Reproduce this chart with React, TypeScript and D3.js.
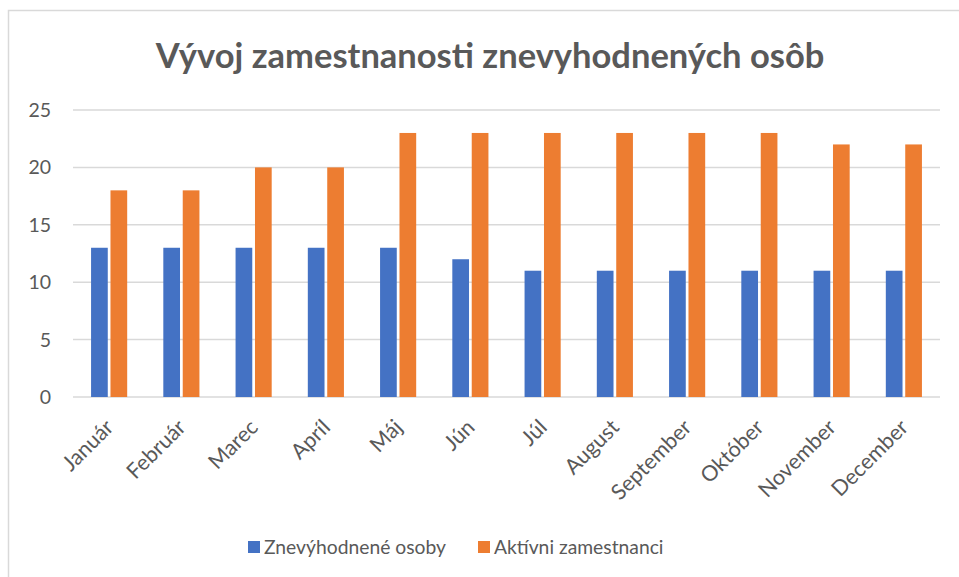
import React from 'react'
import * as d3 from 'd3'

const months = ['Január', 'Február', 'Marec', 'Apríl', 'Máj', 'Jún', 'Júl', 'August', 'September', 'Október', 'November', 'December']
const disadvantaged = [13, 13, 13, 13, 13, 12, 11, 11, 11, 11, 11, 11]
const activeEmployees = [18, 18, 20, 20, 23, 23, 23, 23, 23, 23, 22, 22]
const seriesNames = ['Znevýhodnené osoby', 'Aktívni zamestnanci']
const seriesColors = ['#4472C4', '#ED7D31']
const yTicks = [0, 5, 10, 15, 20, 25]

const W = 959
const H = 577
const FONT = 'Lato, "Open Sans", sans-serif'

export default function App() {
  const margin = { left: 73, right: 19, top: 110, bottom: 180 }
  const x = d3.scaleBand<string>()
    .domain(months)
    .range([margin.left, W - margin.right])
    .paddingInner(0.5)
    .paddingOuter(0.25)
  const xs = d3.scaleBand<string>()
    .domain(seriesNames)
    .range([0, x.bandwidth()])
    .paddingInner(0.14)
  const y = d3.scaleLinear().domain([0, 25]).range([397, 110])

  const series = [disadvantaged, activeEmployees]

  return (
    <div style={{ position: 'fixed', left: 0, top: 0 }}>
      <svg width={W} height={H} style={{ display: 'block', background: '#fff' }}>
        {/* chart frame, cropped at right and bottom */}
        <path d={`M8.5,${H} V10.5 H${W}`} fill="none" stroke="#d9d9d9" strokeWidth={1.5} />

        <text x={490} y={68} textAnchor="middle" fontFamily={FONT} fontWeight={700} fontSize={34.5} fill="#595959">
          Vývoj zamestnanosti znevyhodnených osôb
        </text>

        {/* gridlines + y labels */}
        {yTicks.map(t => (
          <g key={t}>
            <line x1={margin.left} x2={W - margin.right} y1={y(t)} y2={y(t)} stroke="#d9d9d9" strokeWidth={1.5} />
            <text x={51} y={y(t)} dy="0.36em" textAnchor="end" fontFamily={FONT} fontSize={19.5} fill="#595959">{t}</text>
          </g>
        ))}

        {/* bars */}
        {series.map((vals, si) => (
          <g key={si} fill={seriesColors[si]}>
            {vals.map((v, i) => (
              <rect key={i}
                x={(x(months[i]) ?? 0) + (xs(seriesNames[si]) ?? 0)}
                y={y(v)}
                width={xs.bandwidth()}
                height={y(0) - y(v)} />
            ))}
          </g>
        ))}

        {/* x labels */}
        {months.map(m => {
          const cx = (x(m) ?? 0) + x.bandwidth() / 2 - 5
          const ty = 418
          return (
            <text key={m} x={cx} y={ty} textAnchor="end" fontFamily={FONT} fontSize={21.5} fill="#595959"
              transform={`rotate(-45,${cx},${ty})`} dy="0.7em">
              {m}
            </text>
          )
        })}

        {/* legend */}
        <g fontFamily={FONT} fontSize={19.3} fill="#595959">
          <rect x={248} y={541} width={12} height={12} fill={seriesColors[0]} />
          <text x={264} y={554}>{seriesNames[0]}</text>
          <rect x={478} y={541} width={12} height={12} fill={seriesColors[1]} />
          <text x={494} y={554}>{seriesNames[1]}</text>
        </g>
      </svg>
    </div>
  )
}
